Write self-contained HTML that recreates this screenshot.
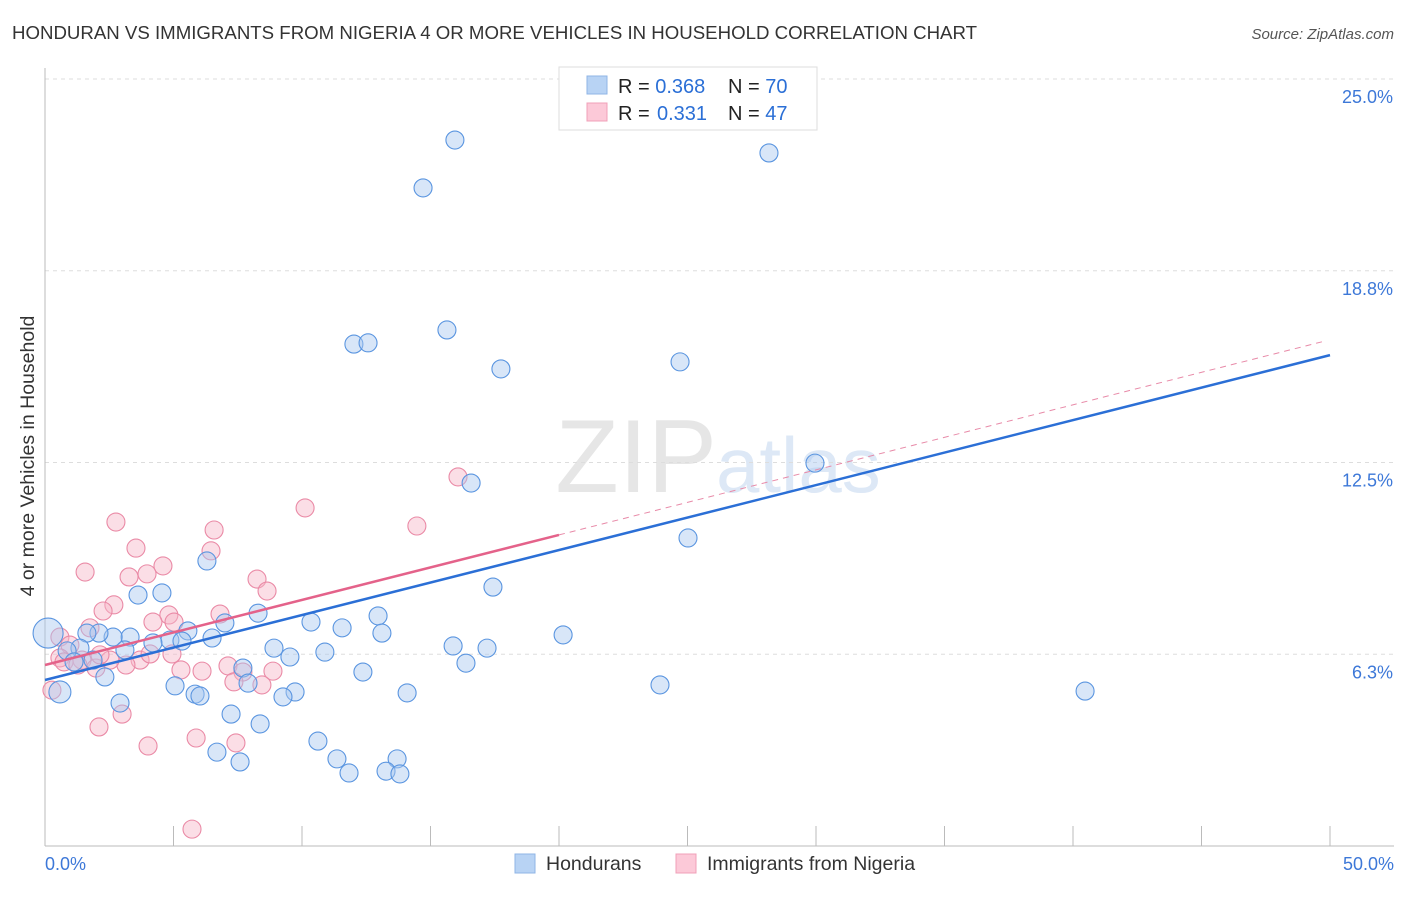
<!DOCTYPE html>
<html><head><meta charset="utf-8"><style>
body{margin:0;background:#fff;font-family:"Liberation Sans",sans-serif;}
svg text{font-family:"Liberation Sans",sans-serif;}
</style></head><body>
<svg id="chart" width="1406" height="892" xmlns="http://www.w3.org/2000/svg">
<text x="12" y="39" font-size="18" fill="#333" textLength="965" lengthAdjust="spacingAndGlyphs">HONDURAN VS IMMIGRANTS FROM NIGERIA 4 OR MORE VEHICLES IN HOUSEHOLD CORRELATION CHART</text>
<text x="1394" y="39" font-size="15" fill="#555" text-anchor="end" font-style="italic">Source: ZipAtlas.com</text>
<text x="717" y="492" font-size="104" fill="#e6e6e6" text-anchor="end" font-family="Liberation Serif">ZIP</text>
<text x="716" y="492" font-size="78" fill="#dde8f6">atlas</text>
<g id="grid"></g>
<g id="axes"></g>
<g id="marks"></g>
<text transform="translate(34,456) rotate(-90)" font-size="19.5" fill="#333" text-anchor="middle">4 or more Vehicles in Household</text>
<g>
<rect x="559" y="67" width="258" height="63" fill="#fff" stroke="#ddd"/>
<rect x="587" y="76" width="20" height="18" fill="#b8d3f4" stroke="#8fb4e6"/>
<rect x="587" y="103" width="20" height="18" fill="#fcc9d8" stroke="#f0a0b8"/>
<text x="618" y="93" font-size="20" fill="#222">R = <tspan fill="#2b6fd6">0.368</tspan><tspan x="728">N = </tspan><tspan fill="#2b6fd6">70</tspan></text>
<text x="618" y="120" font-size="20" fill="#222">R = <tspan x="657" fill="#2b6fd6">0.331</tspan><tspan x="728">N = </tspan><tspan fill="#2b6fd6">47</tspan></text>
</g>
<g>
<rect x="515" y="854" width="20" height="19" fill="#b8d3f4" stroke="#8fb4e6"/>
<text x="546" y="870" font-size="19.5" fill="#333">Hondurans</text>
<rect x="676" y="854" width="20" height="19" fill="#fcc9d8" stroke="#f0a0b8"/>
<text x="707" y="870" font-size="19.5" fill="#333">Immigrants from Nigeria</text>
</g>
</svg>
<script>
const blueX=[15.95,14.71,28.17,15.64,12.02,12.57,17.74,24.71,29.96,16.58,25.02,17.43,6.30,3.62,4.55,8.29,12.96,10.35,11.56,13.11,15.88,17.20,20.16,7.00,5.56,6.50,4.86,4.20,5.33,3.31,2.65,2.10,1.63,1.36,0.86,3.11,1.87,8.91,9.53,10.89,16.38,12.37,7.70,7.90,5.06,2.33,23.93,40.47,14.09,9.73,9.26,5.84,6.03,0.58,2.92,7.24,8.37,10.62,6.69,7.59,11.36,11.83,13.70,13.27,13.81,0.12,1.13];
const blueY=[23.01,21.45,22.59,16.82,16.36,16.40,15.55,15.78,12.48,11.83,10.04,8.44,9.29,8.18,8.25,7.59,7.50,7.30,7.11,6.94,6.52,6.45,6.88,7.27,7.01,6.78,6.71,6.62,6.68,6.81,6.81,6.94,6.94,6.45,6.36,6.39,6.06,6.45,6.16,6.32,5.96,5.67,5.80,5.31,5.22,5.51,5.25,5.05,4.99,5.02,4.86,4.95,4.89,5.02,4.66,4.30,3.98,3.42,3.06,2.74,2.84,2.38,2.84,2.44,2.35,6.94,6.00];
const pinkX=[2.76,3.54,4.59,1.56,3.27,3.97,6.58,6.46,10.12,16.07,14.47,8.25,8.64,2.68,2.26,4.82,4.20,5.02,6.81,1.75,0.58,0.97,1.44,3.70,3.15,2.53,4.09,4.94,1.98,5.29,6.11,7.12,7.70,8.87,7.35,8.44,0.58,0.27,2.10,3.00,4.01,5.88,7.43,5.72,0.74,1.28,2.14];
const pinkY=[10.56,9.71,9.13,8.93,8.77,8.87,10.30,9.62,11.02,12.03,10.43,8.70,8.31,7.86,7.66,7.53,7.30,7.30,7.56,7.11,6.81,6.55,6.06,6.06,5.90,6.06,6.26,6.26,5.80,5.74,5.70,5.87,5.67,5.70,5.35,5.25,6.13,5.08,3.88,4.30,3.26,3.52,3.36,0.55,6.00,5.90,6.23];
const yTicks=[25,18.75,12.5,6.25];
const yTickLabels=["25.0%","18.8%","12.5%","6.3%"];
const xTicks=[0,5,10,15,20,25,30,35,40,45,50];
const blueTrend=[5.41,16.0];
const pinkTrend=[5.90,16.5];
const pinkSolidEnd=20;

const NS="http://www.w3.org/2000/svg";
const sx=v=>45+v*25.7, sy=v=>846-v*30.68;
function mk(tag,attrs,parent){const e=document.createElementNS(NS,tag);for(const k in attrs)e.setAttribute(k,attrs[k]);document.getElementById(parent).appendChild(e);return e;}
yTicks.forEach((t,i)=>{
  const g=mk('line',{x1:45,x2:1394,y1:sy(t),y2:sy(t),stroke:'#ddd','stroke-dasharray':'4,4'},'grid');
  
  
  const l=mk('text',{x:1393,y:sy(t)+24,'font-size':18,fill:'#3d78d8','text-anchor':'end'},'axes');
  l.textContent=yTickLabels[i];
  
  
});
let ax=mk('line',{x1:45,x2:45,y1:68,y2:846,stroke:'#bbb'},'axes');


ax=mk('line',{x1:45,x2:1394,y1:846,y2:846,stroke:'#bbb'},'axes');


xTicks.forEach(t=>{
  const k=mk('line',{x1:sx(t),x2:sx(t),y1:826,y2:846,stroke:'#bbb'},'axes');
  
  
});
let xl=mk('text',{x:45,y:870,'font-size':18,fill:'#3d78d8'},'axes');xl.textContent=xTicks[0].toFixed(1)+'%';


xl=mk('text',{x:1394,y:870,'font-size':18,fill:'#3d78d8','text-anchor':'end'},'axes');xl.textContent=xTicks[xTicks.length-1].toFixed(1)+'%';


function pts(X,Y,fill,stroke,name){
  X.forEach((x,i)=>{
    const r=(x<0.7&&(Y[i]>6.9||Math.abs(Y[i]-5.02)<0.01)&&name==='honduran-point')?(x<0.3?15:11):9;
    const c=mk('circle',{cx:sx(x),cy:sy(Y[i]),r:r,fill:fill,'fill-opacity':0.45,stroke:stroke,'stroke-width':1.1},'marks');
    
    
  });
}
pts(pinkX,pinkY,'#f7b6c8','#ea8aa6','nigeria-point');
pts(blueX,blueY,'#a9c8f0','#5a95e0','honduran-point');
const lerp=(tr,x)=>tr[0]+(tr[1]-tr[0])*x/50;
let tl=mk('line',{x1:sx(0),y1:sy(lerp(blueTrend,0)),x2:sx(50),y2:sy(lerp(blueTrend,50)),stroke:'#2b6fd6','stroke-width':2.5},'marks');


tl=mk('line',{x1:sx(0),y1:sy(lerp(pinkTrend,0)),x2:sx(pinkSolidEnd),y2:sy(lerp(pinkTrend,pinkSolidEnd)),stroke:'#e4628a','stroke-width':2.5},'marks');


tl=mk('line',{x1:sx(pinkSolidEnd),y1:sy(lerp(pinkTrend,pinkSolidEnd)),x2:sx(49.8),y2:sy(lerp(pinkTrend,49.8)),stroke:'#e88aa8','stroke-width':1,'stroke-dasharray':'6,5'},'marks');


</script>
</body></html>
